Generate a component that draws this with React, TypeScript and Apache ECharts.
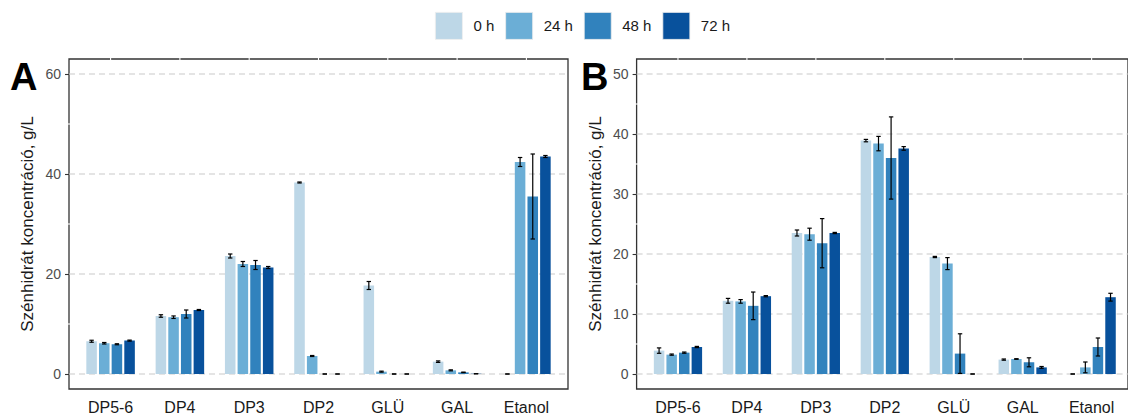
import React, { useEffect, useRef } from "react";
import * as echarts from "echarts";

const FONT = "'Liberation Sans', Arial, Helvetica, sans-serif";

const categories = ["DP5-6", "DP4", "DP3", "DP2", "GLÜ", "GAL", "Etanol"];
const hours = ["0 h", "24 h", "48 h", "72 h"];
const colors = ["#bdd7e7", "#6baed6", "#3182bd", "#08519c"];

// Panel A: mean concentrations (g/L) per sampling time
const meanA0 = [6.55, 11.6, 23.6, 38.3, 17.7, 2.47, 0];
const meanA24 = [6.15, 11.36, 22.0, 3.6, 0.47, 0.73, 42.4];
const meanA48 = [5.95, 12.0, 21.8, 0, 0, 0.33, 35.5];
const meanA72 = [6.68, 12.8, 21.3, 0, 0, 0.05, 43.5];
// Panel A: standard deviations
const sdA0 = [0.2, 0.25, 0.4, 0.1, 0.8, 0.15, 0];
const sdA24 = [0.15, 0.25, 0.5, 0.1, 0.1, 0.1, 0.9];
const sdA48 = [0.1, 0.8, 0.9, 0, 0, 0.05, 8.5];
const sdA72 = [0.1, 0.1, 0.2, 0, 0, 0, 0.2];

// Panel B: mean concentrations (g/L) per sampling time
const meanB0 = [3.9, 12.2, 23.5, 38.9, 19.5, 2.4, 0];
const meanB24 = [3.23, 12.1, 23.3, 38.4, 18.4, 2.5, 1.1];
const meanB48 = [3.56, 11.36, 21.8, 36.0, 3.4, 1.95, 4.5];
const meanB72 = [4.5, 12.97, 23.5, 37.6, 0, 1.1, 12.8];
// Panel B: standard deviations
const sdB0 = [0.45, 0.4, 0.5, 0.2, 0.1, 0.1, 0];
const sdB24 = [0.1, 0.3, 1.0, 1.2, 1.0, 0.05, 0.9];
const sdB48 = [0.1, 2.3, 4.1, 6.85, 3.3, 0.75, 1.5];
const sdB72 = [0.1, 0.1, 0.1, 0.3, 0, 0.15, 0.65];

const ticksA = [0, 20, 40, 60];
const minorA = [10, 30, 50];
const ticksB = [0, 10, 20, 30, 40, 50];
const minorB = [5, 15, 25, 35, 45];

const yTitle = "Szénhidrát koncentráció, g/L";

// dodge layout: 4 bars fill 70% of a category band, 20% gap between bars
const GROUP_FRAC = 0.7;
const GAP_FRAC = 0.2;
const BAR_FRAC = GROUP_FRAC / (4 + 3 * GAP_FRAC);

function gridlineSeries(ticks: number[], axisIdx: number) {
  return {
    type: "custom",
    name: "grid-" + axisIdx,
    xAxisIndex: axisIdx,
    yAxisIndex: axisIdx,
    z: 1,
    silent: true,
    data: ticks.map((v) => [0.5, v]),
    encode: { x: 0, y: 1 },
    renderItem: (_p: any, api: any) => {
      const v = api.value(1);
      const a = api.coord([0, v]);
      const b = api.coord([1, v]);
      return {
        type: "line",
        shape: { x1: a[0], y1: a[1], x2: b[0], y2: b[1] },
        style: { stroke: "#c9c9c9", lineWidth: 1.2, lineDash: [6, 4] },
      };
    },
  };
}

// small white notches where the minor y breaks meet the left border
function leftNotchSeries(minor: number[], axisIdx: number) {
  return {
    type: "custom",
    name: "notch-y-" + axisIdx,
    xAxisIndex: axisIdx,
    yAxisIndex: axisIdx,
    z: 5,
    silent: true,
    data: minor.map((v) => [0, v]),
    encode: { x: 0, y: 1 },
    renderItem: (p: any, api: any) => {
      const x = p.coordSys.x;
      const y = api.coord([0, api.value(1)])[1];
      return {
        type: "line",
        shape: { x1: x - 1.6, y1: y, x2: x + 1.6, y2: y },
        style: { stroke: "#ffffff", lineWidth: 1.1 },
      };
    },
  };
}

// small white notches where the category centres meet the top border
function topNotchSeries(axisIdx: number) {
  return {
    type: "custom",
    name: "notch-x-" + axisIdx,
    xAxisIndex: axisIdx,
    yAxisIndex: axisIdx,
    z: 5,
    silent: true,
    data: categories.map((_c, i) => [i, 0]),
    encode: { x: 0, y: 1 },
    renderItem: (p: any, api: any) => {
      const x = api.coord([api.value(0), 0])[0];
      const y = p.coordSys.y;
      return {
        type: "line",
        shape: { x1: x, y1: y - 1.6, x2: x, y2: y + 1.6 },
        style: { stroke: "#ffffff", lineWidth: 1.1 },
      };
    },
  };
}

function barSeries(means: number[][], axisIdx: number) {
  return means.map((m, s) => ({
    type: "bar",
    name: hours[s],
    xAxisIndex: axisIdx,
    yAxisIndex: axisIdx,
    data: m,
    barWidth: (BAR_FRAC * 100).toFixed(2) + "%",
    barGap: GAP_FRAC * 100 + "%",
    itemStyle: { color: colors[s] },
    z: 2,
  }));
}

function errorSeries(means: number[][], sds: number[][], axisIdx: number) {
  const data: number[][] = [];
  means.forEach((m, s) =>
    m.forEach((v, c) => data.push([c, s, v - sds[s][c], v + sds[s][c]]))
  );
  return {
    type: "custom",
    name: "err-" + axisIdx,
    xAxisIndex: axisIdx,
    yAxisIndex: axisIdx,
    z: 3,
    silent: true,
    data,
    encode: { x: 0, y: [2, 3] },
    renderItem: (_p: any, api: any) => {
      const c = api.value(0);
      const s = api.value(1);
      const band = api.size([1, 0])[0];
      const barW = band * BAR_FRAC;
      const pitch = barW * (1 + GAP_FRAC);
      const x = api.coord([c, 0])[0] + (s - 1.5) * pitch;
      const yLo = api.coord([c, api.value(2)])[1];
      const yHi = api.coord([c, api.value(3)])[1];
      const cap = 2.2;
      const st = { stroke: "#000", lineWidth: 1.2 };
      return {
        type: "group",
        children: [
          { type: "line", shape: { x1: x, y1: yLo, x2: x, y2: yHi }, style: st },
          { type: "line", shape: { x1: x - cap, y1: yHi, x2: x + cap, y2: yHi }, style: st },
          { type: "line", shape: { x1: x - cap, y1: yLo, x2: x + cap, y2: yLo }, style: st },
        ],
      };
    },
  };
}

function frameYAxis(grid: number, min: number, max: number, ticks: number[]) {
  return {
    gridIndex: grid,
    type: "value",
    min,
    max,
    axisLine: { show: false },
    axisTick: {
      show: true,
      length: 4,
      lineStyle: { color: "#333", width: 1.1 },
      customValues: ticks,
    },
    axisLabel: {
      customValues: ticks,
      margin: 8,
      fontSize: 14,
      color: "#4d4d4d",
      fontFamily: FONT,
    },
    splitLine: { show: false },
    name: yTitle,
    nameLocation: "middle",
    nameGap: 33,
    nameTextStyle: { fontSize: 17, color: "#1a1a1a", fontFamily: FONT },
  };
}

function innerYAxis(grid: number, min: number, max: number) {
  return { gridIndex: grid, type: "value", min, max, show: false };
}

function catXAxis(grid: number) {
  return {
    gridIndex: grid,
    type: "category",
    data: categories,
    axisLine: { show: false },
    axisTick: { show: false },
    splitLine: { show: false },
    axisLabel: { fontSize: 16, color: "#1a1a1a", margin: 10, fontFamily: FONT },
  };
}

export default function App() {
  const ref = useRef<HTMLDivElement>(null);

  useEffect(() => {
    if (!ref.current) return;
    const chart = echarts.init(ref.current, undefined, { renderer: "svg" });

    const meansA = [meanA0, meanA24, meanA48, meanA72];
    const sdsA = [sdA0, sdA24, sdA48, sdA72];
    const meansB = [meanB0, meanB24, meanB48, meanB72];
    const sdsB = [sdB0, sdB24, sdB48, sdB72];

    // frame width spans 7 bands plus 0.6 band of padding on each side
    const wA = 499;
    const padA = (wA / 7.2) * 0.1;
    const wB = 496.4;
    const padB = (wB / 7.2) * 0.1;
    const top = 59;
    const h = 330;
    const frame = { show: true, borderColor: "#333", borderWidth: 1.3 };

    chart.setOption({
      animation: false,
      textStyle: { fontFamily: FONT },
      legend: {
        data: hours,
        left: 430,
        top: 7,
        itemWidth: 27,
        itemHeight: 27,
        itemGap: 11,
        icon: "rect",
        itemStyle: { borderColor: "#eeeeee", borderWidth: 0.8 },
        textStyle: { fontSize: 15, color: "#1a1a1a", padding: [0, 0, 0, 6], fontFamily: FONT },
      },
      grid: [
        { left: 69, top, width: wA, height: h, ...frame },
        { left: 69 + padA, top, width: wA - 2 * padA, height: h },
        { left: 636.6, top, width: wB, height: h, ...frame },
        { left: 636.6 + padB, top, width: wB - 2 * padB, height: h },
      ],
      xAxis: [
        { gridIndex: 0, type: "value", min: 0, max: 1, show: false },
        catXAxis(1),
        { gridIndex: 2, type: "value", min: 0, max: 1, show: false },
        catXAxis(3),
      ],
      yAxis: [
        frameYAxis(0, -3, 63, ticksA),
        innerYAxis(1, -3, 63),
        frameYAxis(2, -2.5, 52.5, ticksB),
        innerYAxis(3, -2.5, 52.5),
      ],
      series: [
        gridlineSeries(ticksA, 0),
        leftNotchSeries(minorA, 0),
        ...barSeries(meansA, 1),
        errorSeries(meansA, sdsA, 1),
        topNotchSeries(1),
        gridlineSeries(ticksB, 2),
        leftNotchSeries(minorB, 2),
        ...barSeries(meansB, 3),
        errorSeries(meansB, sdsB, 3),
        topNotchSeries(3),
      ],
      graphic: [
        {
          type: "text",
          left: 10,
          top: 58,
          style: { text: "A", font: "bold 38px " + FONT, fill: "#000" },
        },
        {
          type: "text",
          left: 581,
          top: 58,
          style: { text: "B", font: "bold 38px " + FONT, fill: "#000" },
        },
      ],
    });

    return () => chart.dispose();
  }, []);

  return (
    <div
      ref={ref}
      style={{ position: "absolute", left: 0, top: 0, width: 1128, height: 417 }}
    />
  );
}
